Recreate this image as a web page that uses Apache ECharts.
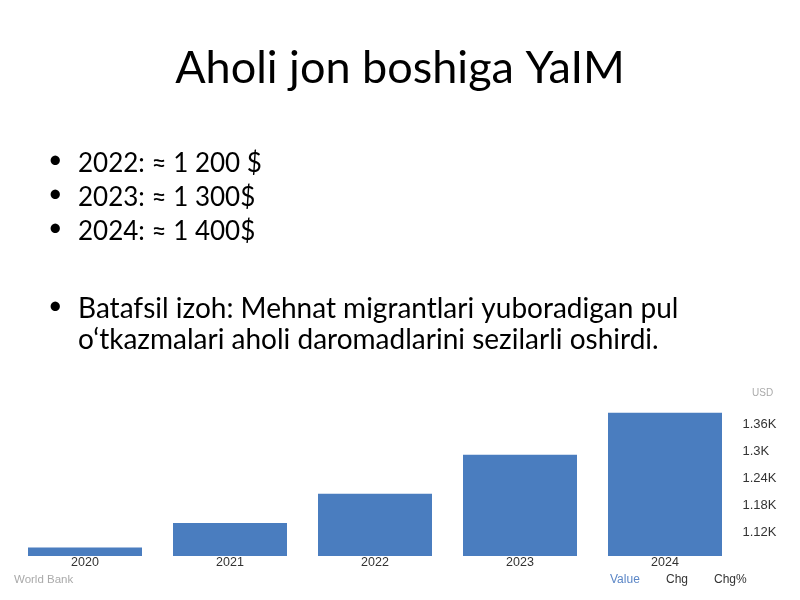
<!DOCTYPE html>
<html>
<head>
<meta charset="utf-8">
<script src="https://cdn.jsdelivr.net/npm/echarts@6/dist/echarts.min.js"></script>
<style>html,body{margin:0;padding:0;background:#fff;}#c{width:800px;height:600px;}</style>
</head>
<body>
<div id="c"></div>
<script>
const titleText = "Aholi jon boshiga YaIM";
const bullets = ["2022: ≈ 1 200 $", "2023: ≈ 1 300$", "2024: ≈ 1 400$"];
const noteLines = ["Batafsil izoh: Mehnat migrantlari yuboradigan pul", "o‘tkazmalari aholi daromadlarini sezilarli oshirdi."];
const years = ["2020", "2021", "2022", "2023", "2024"];
const values = [1087, 1141, 1206, 1292, 1385];
const tickValues = [1120, 1180, 1240, 1300, 1360];
const footerTabs = ["Value", "Chg", "Chg%"];

const chart = echarts.init(document.getElementById('c'));
const font = 'Lato, "Open Sans", sans-serif';
const sans = '"Liberation Sans", Arial, sans-serif';
const graphics = [];
graphics.push({type:'text', left:'center', top:46, style:{text:titleText, font:'45px ' + font, fill:'#000'}});
const bulletY = [164, 198, 232];
bullets.forEach((b,i)=>{
  graphics.push({type:'text', x:48, y:bulletY[i]-4, style:{text:'•', font:'25px ' + font, fill:'#000', verticalAlign:'middle'}});
  graphics.push({type:'text', x:78, y:bulletY[i], style:{text:b, font:'26px ' + font, fill:'#000', verticalAlign:'middle'}});
});
graphics.push({type:'text', x:48, y:306, style:{text:'•', font:'25px ' + font, fill:'#000', verticalAlign:'middle'}});
noteLines.forEach((t,i)=>{
  graphics.push({type:'text', x:78, y:309 + i*31, style:{text:t, font:'28px ' + font, fill:'#000', verticalAlign:'middle'}});
});
graphics.push({type:'text', x:14, y:580, style:{text:'World Bank', font:'11.5px ' + sans, fill:'#aaa', verticalAlign:'middle'}});
const tabX = [610, 666, 714];
const tabColors = ['#5b86c6', '#333', '#333'];
footerTabs.forEach((t,i)=>{
  graphics.push({type:'text', x:tabX[i], y:580, style:{text:t, font:'12px ' + sans, fill:tabColors[i], verticalAlign:'middle'}});
});
graphics.push({type:'text', x:752, y:393, style:{text:'USD', font:'10px ' + sans, fill:'#aaa', verticalAlign:'middle'}});

chart.setOption({
  animation:false,
  backgroundColor:'#fff',
  grid:{left:12.5, right:62.5, top:406, bottom:44},
  xAxis:{type:'category', data:years,
    axisLine:{show:false}, axisTick:{show:false},
    axisLabel:{margin:0, fontSize:12.5, color:'#333', fontFamily:sans}},
  yAxis:{type:'value', position:'right', min:1068, max:1400,
    splitLine:{show:false}, axisLine:{show:false}, axisTick:{show:false},
    axisLabel:{customValues:tickValues, margin:5, fontSize:13, color:'#333', fontFamily:sans,
      formatter:v=>(v/1000)+'K'}},
  series:[{type:'bar', data:values, barWidth:114, itemStyle:{color:'#4a7dbf'}}],
  graphic:graphics
});
</script>
</body>
</html>
